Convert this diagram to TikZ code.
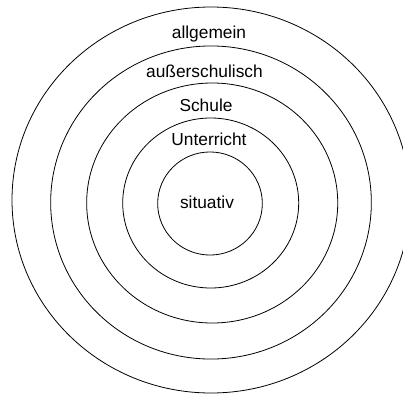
\documentclass[tikz,border=0pt]{standalone}
\usepackage{fontspec}
\setmainfont{Liberation Sans}
\usetikzlibrary{shapes.geometric,positioning}

\begin{document}
\begin{tikzpicture}[
    x=0.75pt, y=0.75pt,
    ring/.style={
      ellipse, draw=black, line width=0.6pt, inner sep=0pt
    },
    lbl/.style={font=\fontsize{13}{15}\selectfont, text=black, inner sep=1pt}
  ]
  \useasboundingbox (0,0) rectangle (403,394);

  % Rings, outside to inside
  \node[ring, minimum width=298.5pt, minimum height=289.5pt] (allg) at (211, 194) {};
  \node[ring, minimum width=240.5pt, minimum height=234.8pt] (ausser) at (211, 191.5) {};
  \node[ring, minimum width=188.3pt, minimum height=180pt] (schule) at (212.2, 191) {};
  \node[ring, minimum width=132pt, minimum height=127.5pt] (unter) at (210.7, 191) {};
  \node[ring, minimum width=78.5pt, minimum height=77.3pt] (sit) at (210, 190.5) {};

  % Labels
  \node[lbl] (allgL) at (209, 360) {allgemein};
  \node[lbl] (ausserL) at (204.5, 323) {außerschulisch};
  \node[lbl] (schuleL) at (206, 289) {Schule};
  \node[lbl] (unterL) at (209, 255) {Unterricht};
  \node[lbl] (sitL) at (207, 192) {situativ};

\end{tikzpicture}
\end{document}
